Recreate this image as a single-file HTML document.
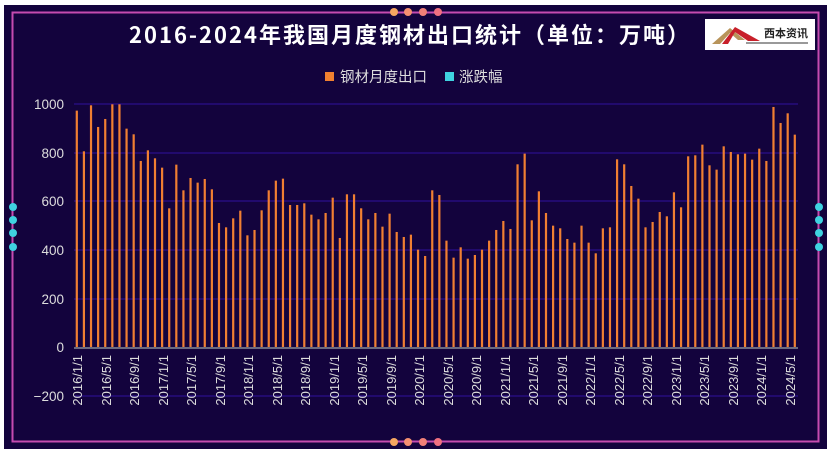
<!DOCTYPE html>
<html><head><meta charset="utf-8"><style>
html,body{margin:0;padding:0;background:#fff;}
body{width:832px;height:456px;overflow:hidden;font-family:"Liberation Sans","Noto Sans CJK SC",sans-serif;}
</style></head><body>
<svg width="832" height="456" xmlns="http://www.w3.org/2000/svg" style="position:absolute;left:0;top:0">
<rect x="4" y="5" width="823" height="444" fill="#13033d"/>
<rect x="12.5" y="12.5" width="806" height="429" fill="none" stroke="#c44bb0" stroke-width="2"/>
<g fill="#3fd2e0">
<circle cx="13" cy="207" r="4"/><circle cx="13" cy="220" r="4"/><circle cx="13" cy="233" r="4"/><circle cx="13" cy="247" r="4"/>
<circle cx="819" cy="207" r="4"/><circle cx="819" cy="220" r="4"/><circle cx="819" cy="233" r="4"/><circle cx="819" cy="247" r="4"/>
</g>
<g>
<circle cx="394" cy="12" r="4" fill="#f6a660"/><circle cx="408" cy="12" r="4" fill="#f59070"/><circle cx="423" cy="12" r="4" fill="#f28078"/><circle cx="438" cy="12" r="4" fill="#f07080"/>
<circle cx="394" cy="442" r="4" fill="#f6a660"/><circle cx="408" cy="442" r="4" fill="#f59070"/><circle cx="423" cy="442" r="4" fill="#f28078"/><circle cx="438" cy="442" r="4" fill="#f07080"/>
</g>
<text x="410" y="43" fill="#fff" font-size="22" font-weight="bold" letter-spacing="2" text-anchor="middle" font-family="Liberation Sans Narrow, Noto Sans CJK SC, sans-serif">2016-2024年我国月度钢材出口统计（单位：万吨）</text>
<rect x="705" y="19" width="110" height="31" fill="#fff"/>
<polygon points="712,44 730,28 745,40 738,40 730,33 720,44" fill="#b8945a"/>
<polygon points="722,44 735,27 760,41 748,41 735,32 728,44" fill="#c8202a"/>
<text x="764" y="37" font-size="11" font-weight="bold" fill="#222">西本资讯</text>
<line x1="746" y1="43" x2="808" y2="43" stroke="#333" stroke-width="1"/>
<rect x="325" y="72" width="9" height="9" fill="#f08030"/>
<text x="340" y="82" fill="#ddd" font-size="14.5">钢材月度出口</text>
<rect x="445" y="72" width="9" height="9" fill="#3fd2e0"/>
<text x="459" y="82" fill="#ddd" font-size="14.5">涨跌幅</text>
<g stroke="#2a0f8a" stroke-width="1.2">
<line x1="74" y1="104" x2="798" y2="104"/><line x1="74" y1="153" x2="798" y2="153"/><line x1="74" y1="201" x2="798" y2="201"/><line x1="74" y1="250" x2="798" y2="250"/><line x1="74" y1="299" x2="798" y2="299"/><line x1="74" y1="396" x2="798" y2="396"/>
</g>
<g fill="#ddd" font-size="13.5" text-anchor="end">
<text x="64" y="109">1000</text><text x="64" y="158">800</text><text x="64" y="206">600</text><text x="64" y="255">400</text><text x="64" y="304">200</text><text x="64" y="352">0</text><text x="64" y="401">−200</text>
</g>
<g id="bars"></g>
<line x1="74" y1="348" x2="798" y2="348" stroke="#6a6a80" stroke-width="2"/>
<g fill="#ddd" font-size="13">
<text transform="translate(82,355) rotate(-90)" text-anchor="end">2016/1/1</text>
<text transform="translate(111,355) rotate(-90)" text-anchor="end">2016/5/1</text>
<text transform="translate(139,355) rotate(-90)" text-anchor="end">2016/9/1</text>
<text transform="translate(168,355) rotate(-90)" text-anchor="end">2017/1/1</text>
<text transform="translate(196,355) rotate(-90)" text-anchor="end">2017/5/1</text>
<text transform="translate(225,355) rotate(-90)" text-anchor="end">2017/9/1</text>
<text transform="translate(253,355) rotate(-90)" text-anchor="end">2018/1/1</text>
<text transform="translate(282,355) rotate(-90)" text-anchor="end">2018/5/1</text>
<text transform="translate(310,355) rotate(-90)" text-anchor="end">2018/9/1</text>
<text transform="translate(339,355) rotate(-90)" text-anchor="end">2019/1/1</text>
<text transform="translate(367,355) rotate(-90)" text-anchor="end">2019/5/1</text>
<text transform="translate(396,355) rotate(-90)" text-anchor="end">2019/9/1</text>
<text transform="translate(424,355) rotate(-90)" text-anchor="end">2020/1/1</text>
<text transform="translate(453,355) rotate(-90)" text-anchor="end">2020/5/1</text>
<text transform="translate(481,355) rotate(-90)" text-anchor="end">2020/9/1</text>
<text transform="translate(510,355) rotate(-90)" text-anchor="end">2021/1/1</text>
<text transform="translate(538,355) rotate(-90)" text-anchor="end">2021/5/1</text>
<text transform="translate(567,355) rotate(-90)" text-anchor="end">2021/9/1</text>
<text transform="translate(595,355) rotate(-90)" text-anchor="end">2022/1/1</text>
<text transform="translate(624,355) rotate(-90)" text-anchor="end">2022/5/1</text>
<text transform="translate(652,355) rotate(-90)" text-anchor="end">2022/9/1</text>
<text transform="translate(681,355) rotate(-90)" text-anchor="end">2023/1/1</text>
<text transform="translate(709,355) rotate(-90)" text-anchor="end">2023/5/1</text>
<text transform="translate(738,355) rotate(-90)" text-anchor="end">2023/9/1</text>
<text transform="translate(766,355) rotate(-90)" text-anchor="end">2024/1/1</text>
<text transform="translate(795,355) rotate(-90)" text-anchor="end">2024/5/1</text>
</g>
</svg>
<script>
var tops=[61,183,45,110,86,42,42,115,132,212,180,204,232,354,223,300,263,277,266,297,398,411,384,361,435,419,360,300,271,265,344,344,339,373,387,368,322,443,312,312,354,387,368,409,370,425,440,433,478,497,300,314,
451,502,471,505,494,478,451,419,392,416,222,190,390,303,368,406,414,446,457,406,457,489,414,411,207,222,287,325,411,395,365,378,306,351,198,195,163,225,238,168,185,192,190,208,175,212,50,98,69,133];
var g=document.getElementById('bars'),n=tops.length,s='';
for(var i=0;i<n;i++){var v=(773-tops[i])/0.731;var h=v*0.2437;var x=76.7+i*(718/(n-1));
s+='<rect x="'+(x-1).toFixed(2)+'" y="'+(348-h).toFixed(2)+'" width="2.2" height="'+h.toFixed(2)+'" fill="#f07f32"/>';}
g.innerHTML=s;
</script>
</body></html>
